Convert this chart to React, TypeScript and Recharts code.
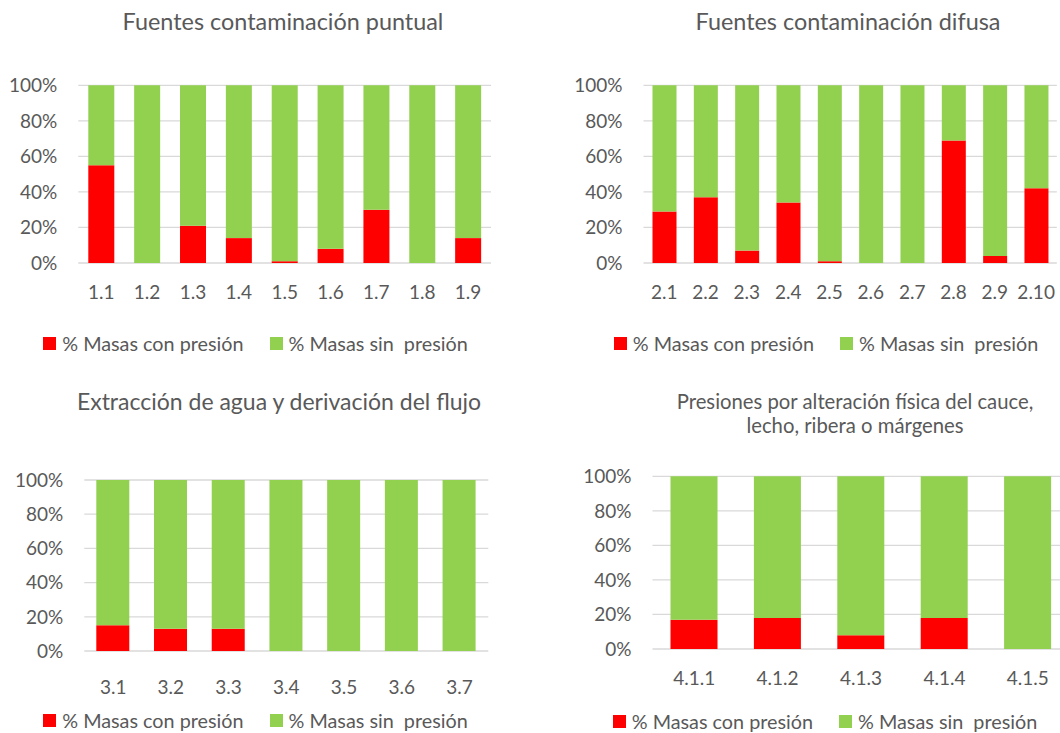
import React from 'react';
import { BarChart, Bar, XAxis, YAxis, CartesianGrid } from 'recharts';

const cats1 = ['1.1', '1.2', '1.3', '1.4', '1.5', '1.6', '1.7', '1.8', '1.9'];
const con1 = [55, 0, 21, 14, 1, 8, 30, 0, 14];
const sin1 = [45, 100, 79, 86, 99, 92, 70, 100, 86];

const cats2 = ['2.1', '2.2', '2.3', '2.4', '2.5', '2.6', '2.7', '2.8', '2.9', '2.10'];
const con2 = [29, 37, 7, 34, 1, 0, 0, 69, 4, 42];
const sin2 = [71, 63, 93, 66, 99, 100, 100, 31, 96, 58];

const cats3 = ['3.1', '3.2', '3.3', '3.4', '3.5', '3.6', '3.7'];
const con3 = [15, 13, 13, 0, 0, 0, 0];
const sin3 = [85, 87, 87, 100, 100, 100, 100];

const cats4 = ['4.1.1', '4.1.2', '4.1.3', '4.1.4', '4.1.5'];
const con4 = [17, 18, 8, 18, 0];
const sin4 = [83, 82, 92, 82, 100];

const yTicks = [0, 20, 40, 60, 80, 100];
const seriesNames = ['% Masas con presión', '% Masas sin  presión'];
const titles = [
  'Fuentes contaminación puntual',
  'Fuentes contaminación difusa',
  'Extracción de agua y derivación del flujo',
  'Presiones por alteración física del cauce,',
  'lecho, ribera o márgenes',
];

const RED = '#FF0000';
const GREEN = '#92D050';
const TEXT = '#595959';
const FONT = 'Lato, "Noto Sans", sans-serif';
const TICK = 19;

const build = (cats: string[], con: number[], sin: number[]) =>
  cats.map((c, i) => ({ cat: c, con: con[i], sin: sin[i] }));

type Cfg = {
  left: number; top: number; clipW: number; width: number; height: number;
  mTop: number; yW: number; mRight: number; xH: number; xMargin: number; barSize: number;
};

function Stack({ data, cfg }: { data: any[]; cfg: Cfg }) {
  return (
    <div style={{ position: 'absolute', left: cfg.left, top: cfg.top, width: cfg.clipW, height: cfg.height, overflow: 'hidden' }}>
      <BarChart
        width={cfg.width}
        height={cfg.height}
        data={data}
        margin={{ top: cfg.mTop, right: cfg.mRight, left: 0, bottom: 0 }}
        barSize={cfg.barSize}
      >
        <CartesianGrid vertical={false} stroke="#D9D9D9" strokeWidth={1.3} />
        <XAxis
          dataKey="cat"
          axisLine={false}
          tickLine={false}
          tickSize={0}
          tickMargin={cfg.xMargin}
          height={cfg.xH}
          interval={0}
          tick={{ fill: TEXT, fontSize: TICK }}
        />
        <YAxis
          width={cfg.yW}
          domain={[0, 100]}
          ticks={yTicks}
          axisLine={false}
          tickLine={false}
          tickSize={0}
          tickMargin={21}
          tickFormatter={(v: number) => `${v}%`}
          tick={{ fill: TEXT, fontSize: TICK }}
        />
        <Bar dataKey="con" stackId="a" fill={RED} isAnimationActive={false} />
        <Bar dataKey="sin" stackId="a" fill={GREEN} isAnimationActive={false} />
      </BarChart>
    </div>
  );
}

function LegendBox({ left, width, cy }: { left: number; width: number; cy: number }) {
  const item = (color: string, label: string) => (
    <div style={{ display: 'flex', alignItems: 'center' }}>
      <div style={{ width: 13, height: 13, background: color, marginRight: 6 }} />
      <span style={{ whiteSpace: 'pre' }}>{label}</span>
    </div>
  );
  return (
    <div
      style={{
        position: 'absolute', left, width, top: cy - 12, height: 24,
        display: 'flex', justifyContent: 'center', alignItems: 'center', gap: 26,
        fontSize: 19.8, color: TEXT, lineHeight: '24px',
      }}
    >
      {item(RED, seriesNames[0])}
      {item(GREEN, seriesNames[1])}
    </div>
  );
}

function Title({ cx, cy, lines, size }: { cx: number; cy: number; lines: string[]; size: number }) {
  const lh = size * 1.2;
  return (
    <div
      style={{
        position: 'absolute', left: cx - 260, width: 520, top: cy - (lh * lines.length) / 2,
        textAlign: 'center', fontSize: size, lineHeight: `${lh}px`, color: TEXT, whiteSpace: 'nowrap',
      }}
    >
      {lines.map((l, i) => <div key={i}>{l}</div>)}
    </div>
  );
}

export default function App() {
  return (
    <div style={{ position: 'absolute', left: 0, top: 0, width: 1060, height: 733, overflow: 'hidden', background: '#fff', fontFamily: FONT }}>
      <Title cx={283} cy={21} lines={[titles[0]]} size={23.4} />
      <Title cx={848} cy={21} lines={[titles[1]]} size={23.4} />
      <Title cx={279} cy={402} lines={[titles[2]]} size={23} />
      <Title cx={855} cy={413} lines={[titles[3], titles[4]]} size={20.3} />

      <Stack data={build(cats1, con1, sin1)} cfg={{ left: 0, top: 0, clipW: 530, width: 530, height: 318, mTop: 85.3, yW: 78.3, mRight: 39, xH: 55, xMargin: 23, barSize: 26 }} />
      <Stack data={build(cats2, con2, sin2)} cfg={{ left: 560, top: 0, clipW: 500, width: 500, height: 318, mTop: 85.3, yW: 83.5, mRight: 3.2, xH: 55, xMargin: 23, barSize: 24 }} />
      <Stack data={build(cats3, con3, sin3)} cfg={{ left: 0, top: 380, clipW: 530, width: 530, height: 321, mTop: 100, yW: 84.3, mRight: 41.7, xH: 50, xMargin: 29.5, barSize: 33 }} />
      <Stack data={build(cats4, con4, sin4)} cfg={{ left: 570, top: 380, clipW: 490, width: 500, height: 319, mTop: 96.3, yW: 82.5, mRight: 0.5, xH: 50, xMargin: 22.5, barSize: 47 }} />

      <LegendBox left={0} width={511} cy={343} />
      <LegendBox left={560} width={532} cy={343} />
      <LegendBox left={0} width={511} cy={720} />
      <LegendBox left={570} width={510} cy={721} />
    </div>
  );
}
